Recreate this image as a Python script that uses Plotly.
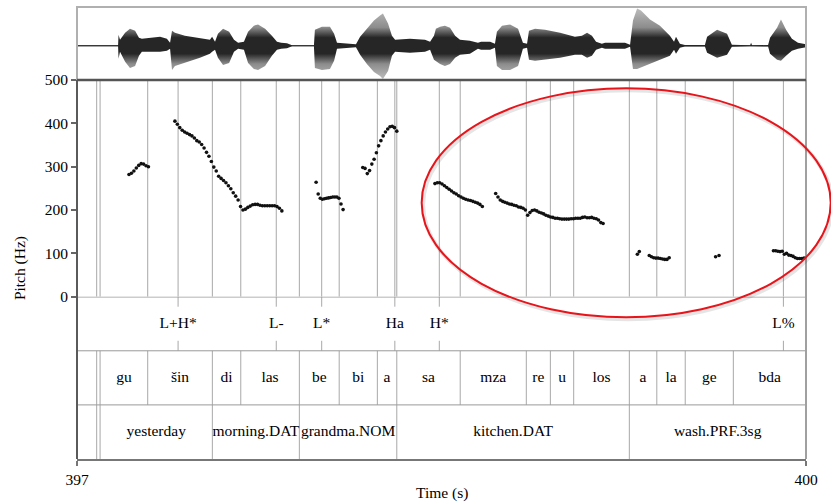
import numpy as np
import plotly.graph_objects as go

# ---------------- data ----------------
T0, T1 = 397.0, 400.0

syll_bounds = [397.000, 397.081, 397.095, 397.291, 397.557, 397.674, 397.915, 398.079,
               398.236, 398.316, 398.577, 398.849, 398.948, 399.044, 399.273, 399.386,
               399.503, 399.701, 400.000]
syll_labels = ["", "", "gu", "šin", "di", "las", "be", "bi", "a", "sa", "mza", "re", "u",
               "los", "a", "la", "ge", "bda"]

word_bounds = [397.000, 397.081, 397.095, 397.557, 397.915, 398.316, 399.273, 400.000]
word_labels = ["", "", "yesterday", "morning.DAT", "grandma.NOM", "kitchen.DAT", "wash.PRF.3sg"]

tone_times = [397.416, 397.820, 398.007, 398.308, 398.491, 399.907]
tone_labels = ["L+H*", "L-", "L*", "Ha", "H*", "L%"]

# pitch contour segments: (start time, end time, Hz values)
pitch_gu = (397.214, 397.294, [282, 285, 290, 297, 303, 307, 306, 302, 300])
pitch_sin_las = (397.403, 397.843,
                 [405, 398, 390, 384, 380, 377, 374, 371, 366, 360, 357, 351, 343, 333, 324,
                  312, 299, 290, 278, 273, 268, 263, 256, 249, 240, 232, 223, 208, 200, 202,
                  206, 209, 212, 213, 213, 211, 210, 210, 210, 210, 210, 210, 208, 204, 198])
pitch_be_bi = (397.984, 398.095, [264, 237, 227, 225, 226, 227, 228, 229, 230, 230, 230, 227, 214, 201])
pitch_a = (398.176, 398.316, [298, 296, 284, 291, 306, 317, 332, 348, 360, 371, 380, 387, 392, 393, 390, 382])
pitch_sa = (398.473, 398.668, [261, 263, 263, 260, 256, 252, 248, 244, 240, 237, 233, 230, 227, 225,
                               223, 222, 220, 218, 216, 213, 208])
pitch_mza_los = (398.723, 399.165,
                 [238, 230, 223, 220, 218, 216, 214, 213, 211, 210, 207, 206, 204, 200, 188, 194,
                  199, 200, 198, 195, 193, 191, 188, 186, 184, 183, 181, 181, 180, 179, 179, 179,
                  179, 180, 180, 181, 181, 181, 183, 184, 182, 182, 183, 181, 180, 177, 171, 169])
pitch_a2 = (399.306, 399.314, [98, 104])
pitch_la = (399.355, 399.437, [95, 92, 90, 89, 89, 88, 87, 86, 86, 90])
pitch_ge = (399.628, 399.642, [92, 95])
pitch_bda = (399.866, 399.992, [106, 106, 105, 104, 105, 98, 100, 96, 95, 93, 90, 88, 88, 88, 89])
pitch_segments = [pitch_gu, pitch_sin_las, pitch_be_bi, pitch_a, pitch_sa, pitch_mza_los,
                  pitch_a2, pitch_la, pitch_ge, pitch_bda]

# waveform envelope (arbitrary amplitude units): time, upper, lower
wave_t = [397.000, 397.169, 397.171, 397.177, 397.198, 397.218, 397.239, 397.255, 397.267, 397.300,
          397.342, 397.370, 397.383, 397.391, 397.403, 397.444, 397.506, 397.547, 397.556, 397.568,
          397.580, 397.601, 397.626, 397.646, 397.663, 397.687, 397.704, 397.728, 397.745, 397.774,
          397.802, 397.823, 397.840, 397.864, 397.885, 397.975, 397.979, 398.008, 398.041, 398.058,
          398.070, 398.148, 398.165, 398.193, 398.222, 398.247, 398.259, 398.280, 398.296, 398.309,
          398.370, 398.432, 398.453, 398.469, 398.477, 398.494, 398.514, 398.535, 398.556, 398.576,
          398.617, 398.650, 398.663, 398.700, 398.720, 398.728, 398.749, 398.782, 398.815, 398.835,
          398.852, 398.860, 398.885, 398.926, 398.988, 399.049, 399.078, 399.099, 399.119, 399.136,
          399.160, 399.173, 399.255, 399.276, 399.288, 399.305, 399.321, 399.358, 399.399, 399.440,
          399.457, 399.465, 399.481, 399.502, 399.584, 399.593, 399.634, 399.675, 399.695, 399.770,
          399.774, 399.778, 399.844, 399.852, 399.881, 399.897, 399.918, 399.942, 399.967, 400.000]
wave_up = [0.5, 0.5, 11, 6, 13, 17, 15, 8, 7, 8,
           9, 7, 3, 15, 13, 10, 8, 6, 9, 4,
           12, 17, 14, 6, 3, 4, 14, 20, 21, 17,
           10, 4, 3, 2.5, 0.5, 0.5, 16, 19, 19, 12,
           3, 1.5, 9, 17, 25, 30, 32, 22, 10, 6,
           7, 6, 4, 10, 17, 19, 20, 18, 10, 6,
           5, 3, 4, 4, 2, 14, 20, 21, 17, 3,
           2, 15, 17, 16, 13, 9, 10, 13, 10, 4,
           2, 3, 3, 1, 25, 37, 35, 26, 20, 10,
           4, 9, 2, 0.7, 0.7, 9, 16, 12, 1, 0.5,
           3, 0.5, 0.7, 8, 18, 26, 16, 7, 3, 1.5]
wave_down = [0.5, 0.5, 13, 6, 16, 22, 20, 10, 6, 6,
             6, 5, 3, 24, 20, 17, 12, 8, 6, 4,
             12, 19, 17, 6, 3, 4, 17, 23, 24, 20,
             10, 4, 3, 2.5, 0.5, 0.5, 22, 24, 23, 15,
             3, 1.5, 9, 18, 26, 30, 33, 25, 10, 6,
             7, 6, 4, 14, 15, 18, 20, 18, 12, 9,
             8, 3, 4, 4, 2, 20, 24, 24, 20, 3,
             2, 14, 15, 14, 12, 9, 9, 12, 10, 4,
             2, 3, 3, 1, 23, 23, 22, 18, 14, 10,
             4, 8, 2, 0.7, 0.7, 7, 12, 9, 1, 0.5,
             1, 0.5, 0.7, 8, 14, 15, 10, 5, 3, 1.5]

# ---------------- styling ----------------
FONT = "Liberation Serif"
FS = 15.5
GRID = "#a8a8a8"
TIER_DOM = [0, 0.3591]
PITCH_DOM = [0.3591, 0.8385]
WAVE_DOM = [0.8385, 1.0]

fig = go.Figure()

# waveform
wx = list(wave_t) + list(wave_t[::-1])
wy = list(wave_up) + [-v for v in wave_down[::-1]]
fig.add_trace(go.Scatter(
    x=wx, y=wy, xaxis="x", yaxis="y3", mode="lines", fill="toself",
    line=dict(width=0), fillcolor="#333333",
    fillgradient=dict(type="vertical", start=-34, stop=38.5,
                      colorscale=[[0, "#c0c0c0"], [0.22, "#8c8c8c"], [0.36, "#262626"],
                                  [0.58, "#262626"], [0.72, "#8c8c8c"], [1, "#c0c0c0"]]),
    hoverinfo="skip", showlegend=False))

# boundaries in pitch panel
pitch_lines = sorted(set([b for b in syll_bounds[1:-1]] + [b for b in word_bounds[1:-1]] + tone_times))
lx, ly = [], []
for b in pitch_lines:
    lx += [b, b, None]
    ly += [0, 500, None]
fig.add_trace(go.Scatter(x=lx, y=ly, xaxis="x", yaxis="y2", mode="lines",
                         line=dict(color=GRID, width=1), hoverinfo="skip", showlegend=False))

# tier boundaries
tx, ty = [], []
for b in syll_bounds[1:-1]:
    tx += [b, b, None]
    ty += [1, 2, None]
for b in word_bounds[1:-1]:
    tx += [b, b, None]
    ty += [0, 1, None]
for t in tone_times:
    tx += [t, t, None, t, t, None]
    ty += [2.815, 3, None, 2, 2.185, None]
fig.add_trace(go.Scatter(x=tx, y=ty, xaxis="x", yaxis="y", mode="lines",
                         line=dict(color=GRID, width=1), hoverinfo="skip", showlegend=False))

# pitch points
px_, py_ = [], []
for (s, e, vals) in pitch_segments:
    px_ += list(np.linspace(s, e, len(vals)))
    py_ += list(vals)
fig.add_trace(go.Scatter(x=px_, y=py_, xaxis="x", yaxis="y2", mode="markers",
                         marker=dict(size=3.6, color="#111111"), hoverinfo="skip", showlegend=False))

# tier labels
def mids(bounds, labels):
    xs, ts = [], []
    for i, lab in enumerate(labels):
        if lab:
            xs.append((bounds[i] + bounds[i + 1]) / 2)
            ts.append(lab)
    return xs, ts

sx, st = mids(syll_bounds, syll_labels)
wxs, wts = mids(word_bounds, word_labels)
for xs, ys, ts in [(tone_times, 2.5, tone_labels), (sx, 1.5, st), (wxs, 0.5, wts)]:
    fig.add_trace(go.Scatter(x=xs, y=[ys] * len(xs), text=ts, mode="text",
                             xaxis="x", yaxis="y", textfont=dict(family=FONT, size=FS, color="black"),
                             cliponaxis=False, hoverinfo="skip", showlegend=False))

shapes = [
    # waveform baseline
    dict(type="line", xref="paper", yref="y3", x0=0, x1=1, y0=0, y1=0,
         line=dict(color="#444444", width=1), layer="below"),
    # waveform frame
    dict(type="rect", xref="paper", yref="paper", x0=0, x1=1, y0=WAVE_DOM[0], y1=1,
         line=dict(color="#b0b0b0", width=2)),
    # tier separators
    dict(type="line", xref="paper", yref="y", x0=0, x1=1, y0=1, y1=1, line=dict(color="#9a9a9a", width=1)),
    dict(type="line", xref="paper", yref="y", x0=0, x1=1, y0=2, y1=2, line=dict(color="#9a9a9a", width=1)),
    dict(type="line", xref="paper", yref="y", x0=0, x1=1, y0=3, y1=3, line=dict(color="#9a9a9a", width=1.5)),
    # right frame
    dict(type="line", xref="paper", yref="paper", x0=1, x1=1, y0=0, y1=PITCH_DOM[1],
         line=dict(color="#a0a0a0", width=2)),
    # left frame
    dict(type="line", xref="paper", yref="paper", x0=0, x1=0, y0=0, y1=PITCH_DOM[1],
         line=dict(color="#5a5a5a", width=2)),
    # top of pitch panel
    dict(type="line", xref="paper", yref="paper", x0=0, x1=1, y0=PITCH_DOM[1], y1=PITCH_DOM[1],
         line=dict(color="#555555", width=2.5)),
    # ellipse shadow
    dict(type="circle", xref="paper", yref="paper", x0=0.4748, x1=1.0359, y0=0.3091, y1=0.8157,
         line=dict(color="rgba(0,0,0,0.10)", width=4), layer="above"),
    # red ellipse
    dict(type="circle", xref="paper", yref="paper", x0=0.4728, x1=1.0339, y0=0.3135, y1=0.8201,
         line=dict(color="#e8141a", width=2), layer="above"),
]

fig.update_layout(
    template="none",
    width=831, height=502,
    margin=dict(l=77, r=25, t=7, b=43, autoexpand=False),
    paper_bgcolor="white", plot_bgcolor="white",
    font=dict(family=FONT, size=FS, color="black"),
    showlegend=False,
    xaxis=dict(range=[T0, T1], anchor="y", tickvals=[397, 400], ticktext=["397", "400"],
               ticks="outside", ticklen=5, tickcolor="#777777", tickwidth=1.5, automargin=False,
               showline=True, linecolor="#777777", linewidth=2, showgrid=False, zeroline=False,
               tickfont=dict(family=FONT, size=FS, color="black")),
    yaxis=dict(domain=TIER_DOM, range=[0, 3], anchor="x", showticklabels=False, ticks="",
               showgrid=False, zeroline=False, showline=False, automargin=False),
    yaxis2=dict(domain=PITCH_DOM, range=[0, 500], anchor="x", tickvals=[0, 100, 200, 300, 400, 500],
                ticks="outside", ticklen=5, tickcolor="#666666", tickwidth=1.5, automargin=False,
                showline=False, showgrid=False, zeroline=False,
                tickfont=dict(family=FONT, size=FS, color="black")),
    yaxis3=dict(domain=WAVE_DOM, range=[-34, 38.5], anchor="x", visible=False, automargin=False),
    shapes=shapes,
    annotations=[
        dict(text="Time (s)", xref="paper", yref="paper", x=0.5, y=-0.075, showarrow=False,
             xanchor="center", yanchor="middle", font=dict(family=FONT, size=FS, color="black")),
        dict(text="Pitch (Hz)", xref="paper", yref="paper", x=-0.078, y=0.4226, showarrow=False,
             textangle=-90, xanchor="center", yanchor="middle",
             font=dict(family=FONT, size=FS, color="black")),
    ],
)

fig.write_html("out.html", config={"displayModeBar": False},
               post_script="document.body.style.margin='0px';document.body.style.overflow='hidden';")
